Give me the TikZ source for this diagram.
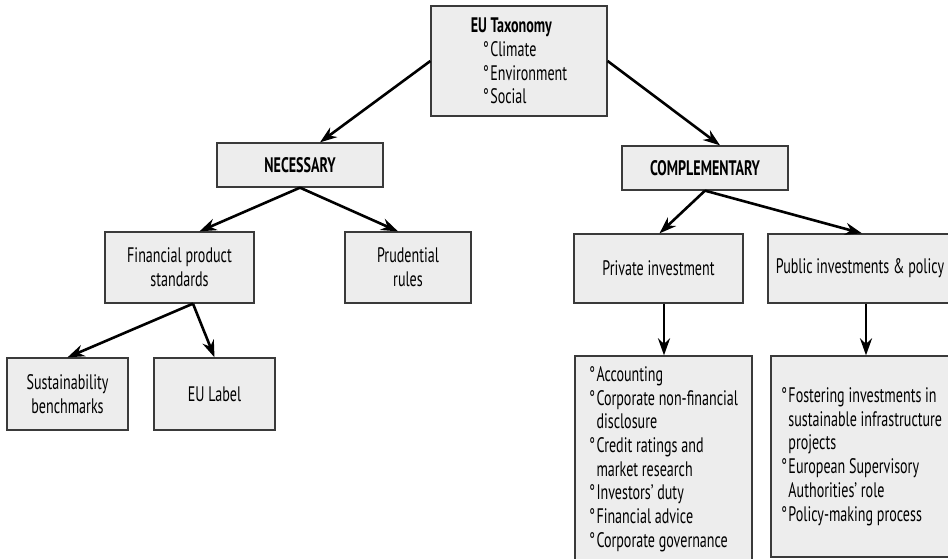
\documentclass[tikz,border=0pt]{standalone}
\usepackage{fontspec}
\setmainfont[FakeStretch=0.67]{PT Sans}
\usepackage{xcolor}
\usetikzlibrary{arrows.meta}

\definecolor{boxfill}{HTML}{EDEDED}
\definecolor{boxline}{HTML}{3A3A3A}
\newcommand{\ring}{°\hspace{1.5pt}}
\newcommand{\hang}{\phantom{\ring}}

\tikzset{
  box/.style={draw=boxline, fill=boxfill, line width=1.3pt, inner sep=0pt,
    align=flush center, font=\fontsize{21}{23.7}\selectfont},
  boldbox/.style={box, font=\fontsize{21}{23.7}\selectfont\bfseries},
  link/.style={line width=2.6pt, -{Stealth[length=17pt,width=12pt]}}
}

\begin{document}
\begin{tikzpicture}[x=1pt, y=-1pt]
        % Frame
        \clip (0,0) rectangle (948,558);
        % Top box
        \node [box, minimum width=176pt, minimum height=110pt, align=flush left] (tax) at (519,61)
          {{\bfseries EU Taxonomy}\\
           \hspace*{12pt}\ring Climate\\
           \hspace*{12pt}\ring Environment\\
           \hspace*{12pt}\ring Social};
        % Second level
        \node [boldbox, minimum width=166pt, minimum height=44pt] (nec) at (300,165) {NECESSARY};
        \node [boldbox, minimum width=166pt, minimum height=44pt] (comp) at (705,168) {COMPLEMENTARY};
        % Third level
        \node [box, minimum width=149pt, minimum height=71pt] (fin) at (179.5,267.5) {Financial product\\standards};
        \node [box, minimum width=126pt, minimum height=71pt] (prud) at (408,267.5) {Prudential\\rules};
        \node [box, minimum width=169pt, minimum height=69pt] (priv) at (658.5,268.5) {Private investment};
        \node [box, minimum width=184pt, minimum height=69pt] (pub) at (860,268.5) {Public investments \& policy};
        % Bottom level
        \node [box, minimum width=121pt, minimum height=72pt] (sust) at (67.5,394) {Sustainability\\benchmarks};
        \node [box, minimum width=121pt, minimum height=72pt] (eul) at (214.5,394) {EU Label};
        \node [box, minimum width=177pt, minimum height=206pt, align=flush left] (acts) at (663.5,459)
          {\ring Accounting\\
           \ring Corporate non-financial\\
           \hang disclosure\\
           \ring Credit ratings and\\
           \hang market research\\
           \ring Investors' duty\\
           \ring Financial advice\\
           \ring Corporate governance};
        \node [box, minimum height=201pt, text width=164pt, inner xsep=10pt, align=flush left] (pol) at (863,456.5)
          {\ring Fostering investments in\\
           \hang sustainable infrastructure\\
           \hang projects\\
           \ring European Supervisory\\
           \hang Authorities' role\\
           \ring Policy-making process};
        % Arrows
        \draw [link] (tax.west) -- ([xshift=20pt]nec.north);
        \draw [link] (tax.east) -- ([xshift=15pt]comp.north);
        \draw [link] (nec.south) -- ([xshift=20pt]fin.north);
        \draw [link] (nec.south) -- ([xshift=-10pt]prud.north);
        \draw [link] (comp.south) -- ([xshift=1pt]priv.north);
        \draw [link] (comp.south) -- ([xshift=2pt]pub.north);
        \draw [link] ([xshift=13.5pt]fin.south) -- (sust.north);
        \draw [link] ([xshift=13.5pt]fin.south) -- (eul.north);
        \draw [link] ([xshift=5.5pt]priv.south) -- ([xshift=5.5pt]priv.south |- acts.north);
        \draw [link] ([xshift=6pt]pub.south) -- ([xshift=6pt]pub.south |- pol.north);
    \end{tikzpicture}
\end{document}
